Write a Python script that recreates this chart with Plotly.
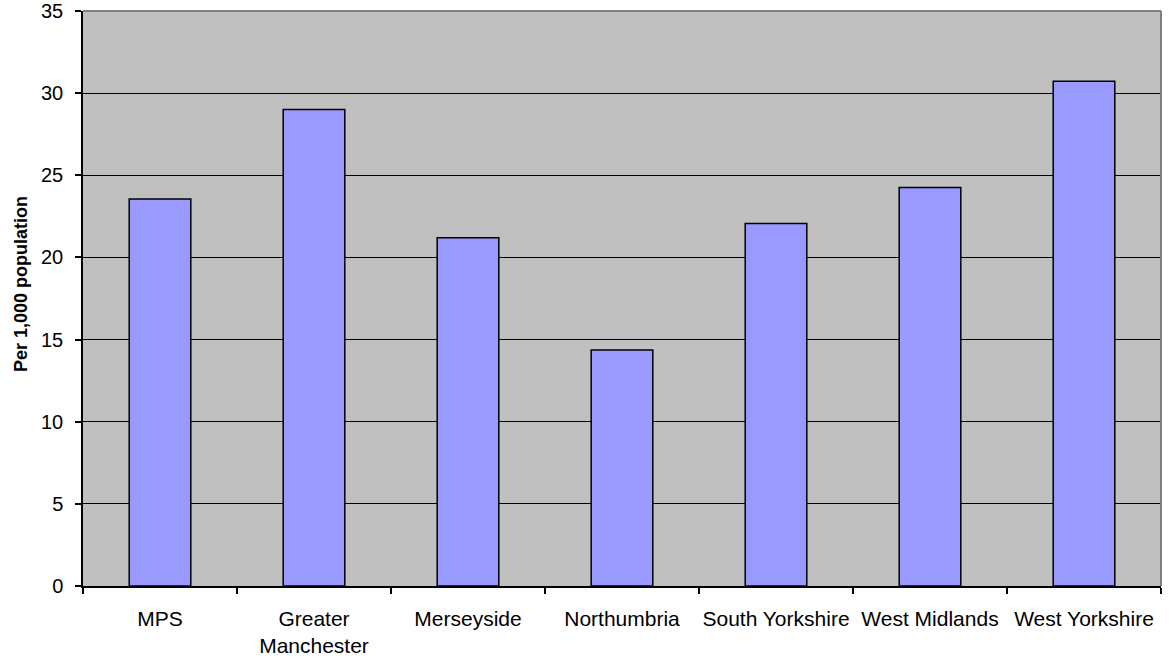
import plotly.graph_objects as go

categories = ["MPS", "Greater<br>Manchester", "Merseyside", "Northumbria",
              "South Yorkshire", "West Midlands", "West Yorkshire"]
values = [23.55, 29.0, 21.2, 14.37, 22.07, 24.25, 30.73]
y_ticks = [0, 5, 10, 15, 20, 25, 30, 35]
y_title = "Per 1,000 population"

FONT = "Liberation Sans, Arial, sans-serif"

fig = go.Figure(go.Bar(
    x=categories, y=values,
    marker=dict(color="#9999FF", line=dict(color="black", width=1.5)),
    width=0.4,
))

fig.update_layout(
    width=1173, height=659,
    margin=dict(l=83, r=12, t=11, b=73),
    paper_bgcolor="white", plot_bgcolor="#C0C0C0",
    showlegend=False,
    font=dict(family=FONT, size=20, color="black"),
    bargap=0.6,
)
fig.update_xaxes(
    showline=True, linecolor="black", linewidth=1.5,
    ticks="outside", ticklen=6, tickcolor="black", tickwidth=1.5,
    tickson="boundaries", showgrid=False, automargin=False,
    tickfont=dict(size=21), ticklabelstandoff=13, tickangle=0,
)
fig.update_yaxes(
    range=[0, 35], tickvals=y_ticks,
    showline=True, linecolor="black", linewidth=1.5,
    ticks="outside", ticklen=6, tickcolor="black", tickwidth=1.5,
    showgrid=True, gridcolor="black", gridwidth=1.2,
    zeroline=False, tickfont=dict(size=20), automargin=False,
    ticklabelstandoff=8,
)
fig.add_annotation(
    text="<b>" + y_title + "</b>", textangle=-90,
    xref="paper", yref="paper", x=(21 - 83) / 1078, y=(586 - 284) / 575,
    xanchor="center", yanchor="middle", showarrow=False,
    font=dict(size=18, family=FONT, color="black"),
)
fig.add_shape(type="line", xref="paper", yref="paper", x0=0, x1=1, y0=1, y1=1,
              line=dict(color="#808080", width=2), layer="above")
fig.add_shape(type="line", xref="paper", yref="paper", x0=1, x1=1, y0=0, y1=1,
              line=dict(color="#808080", width=2), layer="above")

fig.write_html("out.html")
